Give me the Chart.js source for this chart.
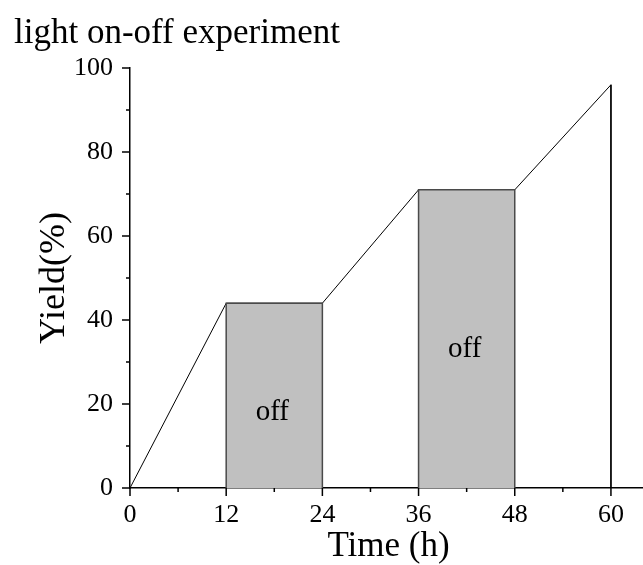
<!DOCTYPE html>
<html>
<head>
<meta charset="utf-8">
<title>light on-off experiment</title>
<script src="https://cdn.jsdelivr.net/npm/chart.js@4"></script>
<style>
    body { margin: 0; background: #fff; }
    canvas { display: block; }
</style>
</head>
<body>
<canvas id="grafico-luz" width="643" height="565"></canvas>
<script>
// Datos
const tiempos = [0, 12, 24, 36, 48, 60, 60];
const rendimientos = [0, 44, 44, 71, 71, 96, 0];
const periodosOff = [[12, 24], [36, 48]];
const rendimientosOff = [44, 71];
const etiquetasOff = ['off', 'off'];
const etiquetasX = [0, 12, 24, 36, 48, 60];
const etiquetasY = [0, 20, 40, 60, 80, 100];

const fuente = "'Liberation Serif', 'Times New Roman', serif";

// Un dataset por cada periodo sin luz (rectángulo gris)
const datasetsOff = periodosOff.map((periodo, i) => ({
    data: [
        { x: periodo[0], y: 0 },
        { x: periodo[0], y: rendimientosOff[i] },
        { x: periodo[1], y: rendimientosOff[i] },
        { x: periodo[1], y: 0 }
    ],
    borderColor: '#4a4a4a',
    borderWidth: 1.5,
    backgroundColor: '#c0c0c0',
    fill: 'origin',
    pointRadius: 0,
    tension: 0,
    order: 1
}));

// Marcas de eje (mayores y menores) y textos
const pluginTextos = {
    id: 'textos',
    afterDraw(chart) {
        const ctx = chart.ctx;
        const x = chart.scales.x;
        const y = chart.scales.y;
        const area = chart.chartArea;
        ctx.save();
        ctx.strokeStyle = '#000';
        ctx.lineWidth = 1.5;
        ctx.beginPath();
        for (let v = 0; v <= 60; v += 6) {
            const px = x.getPixelForValue(v);
            const largo = etiquetasX.includes(v) ? 8 : 4;
            ctx.moveTo(px, area.bottom);
            ctx.lineTo(px, area.bottom + largo);
        }
        for (let v = 0; v <= 100; v += 10) {
            const py = y.getPixelForValue(v);
            const largo = etiquetasY.includes(v) ? 8 : 4;
            ctx.moveTo(area.left, py);
            ctx.lineTo(area.left - largo, py);
        }
        ctx.stroke();

        ctx.fillStyle = '#000';
        ctx.textBaseline = 'alphabetic';

        // titulo
        ctx.font = `35px ${fuente}`;
        ctx.textAlign = 'left';
        ctx.fillText('light on-off experiment', 14, 43);

        // titulo eje x
        ctx.textAlign = 'center';
        ctx.fillText('Time (h)', (area.left + area.right) / 2 + 2, 556);

        // titulo eje y
        ctx.save();
        ctx.font = `36px ${fuente}`;
        ctx.translate(64, (area.top + area.bottom) / 2);
        ctx.rotate(-Math.PI / 2);
        ctx.fillText('Yield(%)', 0, 0);
        ctx.restore();

        // textos "off"
        const alturas = [18, 33];
        ctx.font = `29px ${fuente}`;
        ctx.textBaseline = 'middle';
        periodosOff.forEach((periodo, i) => {
            const cx = x.getPixelForValue((periodo[0] + periodo[1]) / 2) - 2;
            ctx.fillText(etiquetasOff[i], cx, y.getPixelForValue(alturas[i]));
        });
        ctx.restore();
    }
};

const ctx = document.getElementById('grafico-luz').getContext('2d');
window.graficoLuz = new Chart(ctx, {
    type: 'line',
    data: {
        datasets: [
            ...datasetsOff,
            {
                data: tiempos.map((t, i) => ({ x: t, y: rendimientos[i] })),
                borderColor: '#000',
                borderWidth: 1,
                fill: false,
                pointRadius: 0,
                tension: 0,
                order: 2
            }
        ]
    },
    options: {
        responsive: false,
        animation: false,
        layout: {
            padding: { top: 68, right: 0, bottom: 0, left: 0 }
        },
        plugins: {
            legend: { display: false },
            tooltip: { enabled: false },
            title: { display: false }
        },
        scales: {
            x: {
                type: 'linear',
                min: 0,
                max: 64,
                afterBuildTicks: scale => {
                    scale.ticks = etiquetasX.map(v => ({ value: v }));
                },
                afterFit: scale => { scale.height = 77; },
                ticks: {
                    color: '#000',
                    padding: 12,
                    maxRotation: 0,
                    font: { family: fuente, size: 26 },
                    callback: value => `${value}`
                },
                grid: { display: false, drawTicks: false, tickLength: 0 },
                border: { display: true, color: '#000', width: 1.5 }
            },
            y: {
                min: 0,
                max: 100,
                afterBuildTicks: scale => {
                    scale.ticks = etiquetasY.map(v => ({ value: v }));
                },
                afterFit: scale => { scale.width = 130; },
                ticks: {
                    color: '#000',
                    padding: 17,
                    font: { family: fuente, size: 26 },
                    callback: value => `${value}`
                },
                grid: { display: false, drawTicks: false, tickLength: 0 },
                border: { display: true, color: '#000', width: 1.5 }
            }
        }
    },
    plugins: [pluginTextos]
});
</script>
</body>
</html>
